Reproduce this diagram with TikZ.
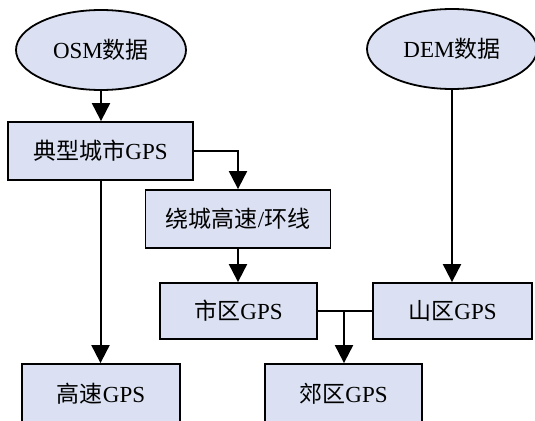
\documentclass[tikz,border=0pt]{standalone}
\usepackage{fontspec}
\setmainfont{Liberation Serif}
\newfontfamily\cjk{Noto Sans CJK SC}
\usetikzlibrary{arrows.meta,shapes.geometric}
\definecolor{boxfill}{RGB}{219,225,242}
\tikzset{
  base/.style={draw=black, line width=1.8pt, fill=boxfill, inner sep=0pt,
    font=\fontsize{23}{27}\selectfont},
  oval/.style={base, ellipse},
  box/.style={base, rectangle},
  arr/.style={line width=2pt, -{Triangle[width=18pt,length=18pt]}},
  ln/.style={line width=2pt}
}
\begin{document}
\begin{tikzpicture}[x=1pt,y=-1pt]
\useasboundingbox (0,0) rectangle (535,420);
\node[oval, minimum width=170pt, minimum height=80pt] (osm) at (101,50) {OSM{\cjk 数据}};
\node[oval, minimum width=170pt, minimum height=80pt] (dem) at (452,49) {DEM{\cjk 数据}};
\node[box, minimum width=185pt, minimum height=58pt] (dian) at (100.5,151) {{\cjk 典型城市}GPS};
\node[box, minimum width=185pt, minimum height=58pt] (rao) at (238,219) {{\cjk 绕城高速}/{\cjk 环线}};
\node[box, minimum width=157pt, minimum height=56pt] (shiqu) at (238.5,311) {{\cjk 市区}GPS};
\node[box, minimum width=159pt, minimum height=56pt] (shanqu) at (452.5,311) {{\cjk 山区}GPS};
\node[box, minimum width=158pt, minimum height=60pt] (gaosu) at (101,394) {{\cjk 高速}GPS};
\node[box, minimum width=157pt, minimum height=60pt] (jiaoqu) at (343.5,394) {{\cjk 郊区}GPS};
\coordinate (j) at (344,311);
\draw[arr] (osm.south) -- (osm.south |- dian.north);
\draw[arr] (dian.east) -| (rao.north);
\draw[arr] (rao.south) -- (rao.south |- shiqu.north);
\draw[arr] (dian.south) -- (dian.south |- gaosu.north);
\draw[arr] (dem.south) -- (dem.south |- shanqu.north);
\draw[ln] (shiqu.east) -- (shanqu.west);
\draw[arr] (j) -- (j |- jiaoqu.north);
\end{tikzpicture}
\end{document}
